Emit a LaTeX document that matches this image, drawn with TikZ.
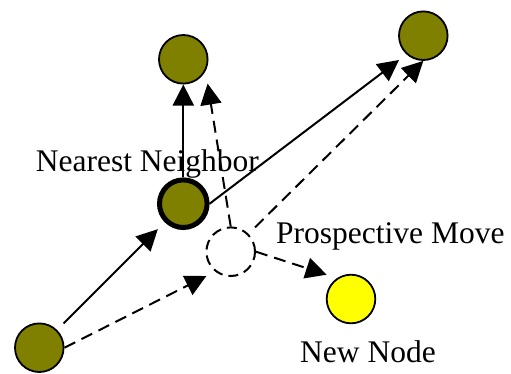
\documentclass[tikz,border=0pt]{standalone}
\usepackage{fontspec}
\setmainfont{Liberation Serif}
\usetikzlibrary{arrows.meta,calc}
\definecolor{olivefill}{HTML}{808000}
\definecolor{newyellow}{HTML}{FFFF00}
\tikzset{
  blob/.style={circle, draw, line width=1.8pt, fill=olivefill, minimum size=48.6pt, inner sep=0pt},
  conn/.style={line width=2pt, -{Triangle[length=21pt,width=21pt]}},
  dconn/.style={conn, dash pattern=on 12pt off 7pt},
  ghost/.style={circle, draw, line width=2pt, dash pattern=on 10pt off 6pt, minimum size=48.6pt, inner sep=0pt},
  lbl/.style={anchor=base west, inner sep=0pt, font=\fontsize{31.5}{36}\selectfont}
}
\begin{document}
\begin{tikzpicture}[x=1pt,y=-1pt]
\useasboundingbox (0,0) rectangle (511,373);
% nodes
\node[blob] (top) at (183.3,59.3) {};
\node[blob] (tr) at (423.3,35.7) {};
\node[blob, line width=5pt, minimum size=47.6pt] (nn) at (183.3,203.7) {};
\node[blob] (bl) at (39.3,347.7) {};
\node[blob, fill=newyellow] (new) at (351,299) {};
\node[ghost] (pm) at (230.7,251.7) {};
% connection points (bounding-box corners)
\coordinate (topSE) at ($(top.center)+(24.3,24.3)$);
\coordinate (trSW) at ($(tr.center)+(-24.3,24.3)$);
\coordinate (nnSW) at ($(nn.center)+(-25.5,25.5)$);
\coordinate (blNE) at ($(bl.center)+(24.3,-24.3)$);
\coordinate (pmSW) at ($(pm.center)+(-24.3,24.3)$);
\coordinate (pmNE) at ($(pm.center)+(24.3,-24.3)$);
\coordinate (newNW) at ($(new.center)+(-24.3,-24.3)$);
% connectors
\draw[conn] (nn.north) -- (top.south);
\draw[conn] (nn.east) -- (trSW);
\draw[conn] (blNE) -- (nnSW);
\draw[dconn] (bl.east) -- (pmSW);
\draw[dconn] (pm.north) -- (topSE);
\draw[dconn] (pmNE) -- (tr.south);
\draw[dconn] (pm.east) -- (newNW);
% labels
\node[lbl] (nnlabel) at (35.7,171.7) {Nearest Neighbor};
\node[lbl] (pmlabel) at (276,243.3) {Prospective Move};
\node[lbl] (newlabel) at (300,362.7) {New Node};
\end{tikzpicture}
\end{document}
